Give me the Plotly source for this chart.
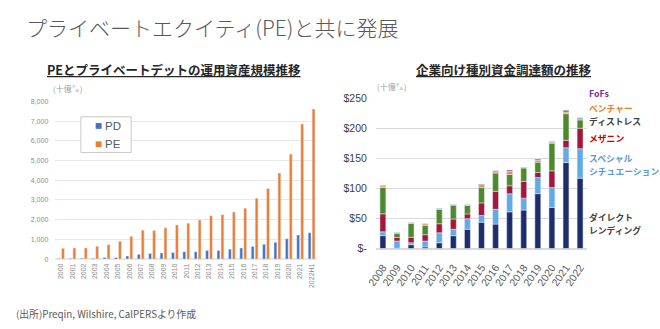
import plotly.graph_objects as go

# ---- Left chart data (十億ドル) ----
years_l = [str(y) for y in range(2000, 2022)] + ["2022H1"]
pd_vals = [30, 40, 50, 50, 80, 80, 160, 245, 290, 310, 330, 375, 375, 440, 440, 505, 570, 640, 750, 850, 1030, 1225, 1340]
pe_vals = [545, 570, 570, 655, 735, 900, 1160, 1470, 1450, 1590, 1735, 1825, 1980, 2205, 2255, 2390, 2585, 3090, 3580, 4365, 5330, 6850, 7620]

# ---- Right chart data (十億ドル) ----
years_r = [str(y) for y in range(2008, 2023)]
direct = [21.4, 0.5, 6.4, 2.7, 9.6, 21.4, 32.0, 43.8, 40.6, 61.0, 64.0, 91.3, 68.4, 143.0, 117.0]
special = [6.4, 12.0, 3.2, 9.6, 16.6, 10.7, 17.6, 11.2, 24.6, 30.0, 19.8, 26.7, 33.0, 24.6, 49.0]
mezz = [29.9, 6.0, 9.0, 10.7, 15.0, 17.0, 8.0, 20.8, 29.9, 13.4, 27.8, 8.5, 27.8, 12.3, 34.0]
distress = [43.8, 7.0, 23.0, 15.5, 24.0, 23.0, 14.4, 25.6, 30.4, 18.7, 22.4, 17.0, 46.0, 44.3, 13.9]
venture = [2.7, 0.5, 2.0, 2.7, 1.0, 1.0, 0.5, 4.8, 2.0, 4.8, 0.5, 3.2, 1.6, 2.7, 2.0]
fofs = [1.0, 0.5, 0.3, 0.5, 0.6, 0.6, 0.5, 1.0, 2.0, 2.7, 0.5, 2.0, 1.0, 3.2, 1.6]

# name (label lines), values, bar colour, label colour, label line y positions (px)
r_series = [
    (["ダイレクト", "レンディング"], direct, "#1f2d6b", "#404040", [219.5, 232.5]),
    (["スペシャル", "シチュエーション"], special, "#62aae6", "#5b9bd5", [158.5, 171.5]),
    (["メザニン"], mezz, "#a3173c", "#c00000", [137]),
    (["ディストレス"], distress, "#4e8a2c", "#404040", [120]),
    (["ベンチャー"], venture, "#f0894a", "#ed7d31", [106]),
    (["FoFs"], fofs, "#7d5ca8", "#7030a0", [91]),
]

W, H = 660, 329
JP = "Noto Sans CJK JP"
C_PD, C_PE = "#4472c4", "#ed7d31"


def px(x):
    return x / W


def py(y):
    return 1 - y / H


fig = go.Figure()

fig.add_trace(go.Bar(x=years_l, y=pd_vals, name="PD", marker_color=C_PD, showlegend=False,
                     width=0.25, offset=-0.3, xaxis="x", yaxis="y"))
fig.add_trace(go.Bar(x=years_l, y=pe_vals, name="PE", marker_color=C_PE, showlegend=False,
                     width=0.25, offset=0.05, xaxis="x", yaxis="y"))

base = [0.0] * len(years_r)
for lines, vals, col, tcol, tys in r_series:
    fig.add_trace(go.Bar(x=years_r, y=vals, base=list(base), name="".join(lines),
                         marker_color=col, width=0.42, offset=-0.21, offsetgroup="r",
                         showlegend=False, xaxis="x2", yaxis="y2"))
    base = [b + v for b, v in zip(base, vals)]

ann = []
ann.append(dict(text="プライベートエクイティ(PE)と共に発展", x=px(205), y=py(22), xref="paper", yref="paper",
                xanchor="center", yanchor="middle", showarrow=False,
                font=dict(family=JP, size=21, color="#595959", weight=300)))
ann.append(dict(text="<b>PEとプライベートデットの運用資産規模推移</b>", x=px(167), y=py(66), xref="paper", yref="paper",
                xanchor="center", yanchor="middle", showarrow=False,
                font=dict(family=JP, size=12.5, color="#262626", lineposition="under")))
ann.append(dict(text="<b>企業向け種別資金調達額の推移</b>", x=px(502), y=py(66), xref="paper", yref="paper",
                xanchor="center", yanchor="middle", showarrow=False,
                font=dict(family=JP, size=12.5, color="#262626", lineposition="under")))
ann.append(dict(text="(十億㌦)", x=px(58), y=py(86), xref="paper", yref="paper",
                xanchor="center", yanchor="middle", showarrow=False,
                font=dict(family=JP, size=8, color="#a0a0a0")))
ann.append(dict(text="(十億㌦)", x=px(387), y=py(84), xref="paper", yref="paper",
                xanchor="center", yanchor="middle", showarrow=False,
                font=dict(family=JP, size=8, color="#a0a0a0")))
ann.append(dict(text="(出所)Preqin, Wilshire, CalPERSより作成", x=px(97), y=py(320), xref="paper", yref="paper",
                xanchor="center", yanchor="middle", showarrow=False,
                font=dict(family=JP, size=9.8, color="#595959")))
for lines, vals, col, tcol, tys in r_series:
    for line, ty in zip(lines, tys):
        ann.append(dict(text="<b>" + line + "</b>", x=px(586), y=py(ty), xref="paper", yref="paper",
                        xanchor="left", yanchor="middle", align="left", showarrow=False,
                        font=dict(family=JP, size=8.8, color=tcol)))

# hand-made legend for the left chart
shapes = [dict(type="rect", xref="paper", yref="paper", x0=px(72), x1=px(123), y0=py(152), y1=py(115),
               line=dict(color="#c8c8c8", width=1), fillcolor="white", layer="above")]
for nm, c, ly in [("PD", C_PD, 124.5), ("PE", C_PE, 143.5)]:
    shapes.append(dict(type="rect", xref="paper", yref="paper", x0=px(87), x1=px(93),
                       y0=py(ly + 3), y1=py(ly - 3), line=dict(width=0), fillcolor=c, layer="above"))
    ann.append(dict(text=nm, x=px(104.5), y=py(ly), xref="paper", yref="paper",
                    xanchor="center", yanchor="middle", showarrow=False,
                    font=dict(family="Liberation Sans, Arial, sans-serif", size=11.5, color="#595959")))

fig.update_layout(
    width=W, height=H, margin=dict(l=0, r=0, t=0, b=0),
    paper_bgcolor="white", plot_bgcolor="white",
    barmode="group", showlegend=False,
    font=dict(family=JP),
    annotations=ann, shapes=shapes,
    xaxis=dict(domain=[px(46), px(312)], type="category", tickangle=-90,
               tickfont=dict(family="Liberation Sans, Arial", size=7, color="#8c8c8c"),
               showgrid=False, showline=False, ticks="", anchor="y", ticklabelstandoff=2),
    yaxis=dict(domain=[py(262.7), py(99)], range=[0, 8000], tickformat=",",
               dtick=1000, gridcolor="#e8e8e8", gridwidth=1, zeroline=True, zerolinecolor="#e8e8e8",
               tickfont=dict(family="Liberation Sans, Arial", size=7, color="#8c8c8c"),
               ticklabelstandoff=6, anchor="x"),
    xaxis2=dict(domain=[px(371.5), px(586)], type="category", tickangle=-55,
                tickfont=dict(family="Liberation Sans Narrow, Liberation Sans, Arial", size=10.5, color="#595959"),
                showgrid=False, showline=False, ticks="", anchor="y2", ticklabelstandoff=10),
    yaxis2=dict(domain=[py(251.7), py(95.7)], range=[0, 250],
                tickvals=[0, 50, 100, 150, 200, 250],
                ticktext=["$-", "$50", "$100", "$150", "$200", "$250"],
                gridcolor="#d9d9d9", gridwidth=1, zeroline=True, zerolinecolor="#d9d9d9",
                tickfont=dict(family="Liberation Sans Narrow, Liberation Sans, Arial", size=10.5, color="#404040"),
                ticklabelstandoff=8, anchor="x2"),
)

fig.write_html("out.html")
